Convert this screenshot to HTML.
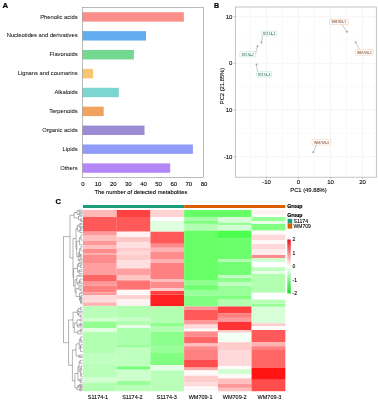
<!DOCTYPE html>
<html><head><meta charset="utf-8"><style>
html,body{margin:0;padding:0;background:#fff;}
body{width:378px;height:400px;overflow:hidden;}
svg{display:block;filter:blur(0.3px);}
text{font-family:"Liberation Sans",sans-serif;}
</style></head><body>
<svg width="378" height="400" viewBox="0 0 378 400">
<rect x="82.5" y="12.24" width="101.34" height="9.4" fill="#F98F88"/>
<text x="77.6" y="18.54" font-size="5.8" text-anchor="end" fill="#111" stroke="#111" stroke-width="0.05">Phenolic acids</text>
<rect x="82.5" y="31.13" width="63.52" height="9.4" fill="#62ADF0"/>
<text x="77.6" y="37.43" font-size="5.8" text-anchor="end" fill="#111" stroke="#111" stroke-width="0.05">Nucleotides and derivatives</text>
<rect x="82.5" y="50.02" width="51.42" height="9.4" fill="#74D990"/>
<text x="77.6" y="56.32" font-size="5.8" text-anchor="end" fill="#111" stroke="#111" stroke-width="0.05">Flavonoids</text>
<rect x="82.5" y="68.91" width="10.59" height="9.4" fill="#F8C673"/>
<text x="77.6" y="75.21" font-size="5.8" text-anchor="end" fill="#111" stroke="#111" stroke-width="0.05">Lignans and coumarins</text>
<rect x="82.5" y="87.80" width="36.30" height="9.4" fill="#7BD6D1"/>
<text x="77.6" y="94.10" font-size="5.8" text-anchor="end" fill="#111" stroke="#111" stroke-width="0.05">Alkaloids</text>
<rect x="82.5" y="106.69" width="21.18" height="9.4" fill="#EFA35F"/>
<text x="77.6" y="112.99" font-size="5.8" text-anchor="end" fill="#111" stroke="#111" stroke-width="0.05">Terpenoids</text>
<rect x="82.5" y="125.58" width="62.01" height="9.4" fill="#9A8BD3"/>
<text x="77.6" y="131.88" font-size="5.8" text-anchor="end" fill="#111" stroke="#111" stroke-width="0.05">Organic acids</text>
<rect x="82.5" y="144.47" width="110.41" height="9.4" fill="#919CF8"/>
<text x="77.6" y="150.77" font-size="5.8" text-anchor="end" fill="#111" stroke="#111" stroke-width="0.05">Lipids</text>
<rect x="82.5" y="163.36" width="87.72" height="9.4" fill="#B387F8"/>
<text x="77.6" y="169.66" font-size="5.8" text-anchor="end" fill="#111" stroke="#111" stroke-width="0.05">Others</text>
<rect x="82.5" y="7.5" width="121.0" height="170.0" fill="none" stroke="#8c8c8c" stroke-width="0.6"/>
<text x="83.00" y="185.9" font-size="6" text-anchor="middle" fill="#000" stroke="#000" stroke-width="0.1">0</text>
<text x="98.12" y="185.9" font-size="6" text-anchor="middle" fill="#000" stroke="#000" stroke-width="0.1">10</text>
<text x="113.25" y="185.9" font-size="6" text-anchor="middle" fill="#000" stroke="#000" stroke-width="0.1">20</text>
<text x="128.38" y="185.9" font-size="6" text-anchor="middle" fill="#000" stroke="#000" stroke-width="0.1">30</text>
<text x="143.50" y="185.9" font-size="6" text-anchor="middle" fill="#000" stroke="#000" stroke-width="0.1">40</text>
<text x="158.62" y="185.9" font-size="6" text-anchor="middle" fill="#000" stroke="#000" stroke-width="0.1">50</text>
<text x="173.75" y="185.9" font-size="6" text-anchor="middle" fill="#000" stroke="#000" stroke-width="0.1">60</text>
<text x="188.88" y="185.9" font-size="6" text-anchor="middle" fill="#000" stroke="#000" stroke-width="0.1">70</text>
<text x="204.00" y="185.9" font-size="6" text-anchor="middle" fill="#000" stroke="#000" stroke-width="0.1">80</text>
<text x="140.9" y="194.1" font-size="5.8" text-anchor="middle" fill="#000" stroke="#000" stroke-width="0.1">The number of detected metabolites</text>
<text x="2.5" y="8.4" font-size="7.8" font-weight="bold" fill="#000" stroke="#000" stroke-width="0.2">A</text>
<rect x="235.3" y="7.0" width="141.0" height="170.2" fill="#fff"/>
<line x1="250.50" y1="7.0" x2="250.50" y2="177.2" stroke="#f5f5f5" stroke-width="0.6"/>
<line x1="282.50" y1="7.0" x2="282.50" y2="177.2" stroke="#f5f5f5" stroke-width="0.6"/>
<line x1="314.50" y1="7.0" x2="314.50" y2="177.2" stroke="#f5f5f5" stroke-width="0.6"/>
<line x1="346.50" y1="7.0" x2="346.50" y2="177.2" stroke="#f5f5f5" stroke-width="0.6"/>
<line x1="235.3" y1="40.03" x2="376.3" y2="40.03" stroke="#f5f5f5" stroke-width="0.6"/>
<line x1="235.3" y1="86.67" x2="376.3" y2="86.67" stroke="#f5f5f5" stroke-width="0.6"/>
<line x1="235.3" y1="133.32" x2="376.3" y2="133.32" stroke="#f5f5f5" stroke-width="0.6"/>
<line x1="266.50" y1="7.0" x2="266.50" y2="177.2" stroke="#eeeeee" stroke-width="0.6"/>
<line x1="298.50" y1="7.0" x2="298.50" y2="177.2" stroke="#eeeeee" stroke-width="0.6"/>
<line x1="330.50" y1="7.0" x2="330.50" y2="177.2" stroke="#eeeeee" stroke-width="0.6"/>
<line x1="362.50" y1="7.0" x2="362.50" y2="177.2" stroke="#eeeeee" stroke-width="0.6"/>
<line x1="235.3" y1="16.70" x2="376.3" y2="16.70" stroke="#eeeeee" stroke-width="0.6"/>
<line x1="235.3" y1="63.35" x2="376.3" y2="63.35" stroke="#eeeeee" stroke-width="0.6"/>
<line x1="235.3" y1="110.00" x2="376.3" y2="110.00" stroke="#eeeeee" stroke-width="0.6"/>
<line x1="235.3" y1="156.65" x2="376.3" y2="156.65" stroke="#eeeeee" stroke-width="0.6"/>
<rect x="235.3" y="7.0" width="141.0" height="170.2" fill="none" stroke="#aaaaaa" stroke-width="0.7"/>
<line x1="233.70000000000002" y1="16.70" x2="235.3" y2="16.70" stroke="#999" stroke-width="0.6"/>
<text x="232.4" y="18.80" font-size="6" text-anchor="end" fill="#000" stroke="#000" stroke-width="0.1">10</text>
<line x1="233.70000000000002" y1="63.35" x2="235.3" y2="63.35" stroke="#999" stroke-width="0.6"/>
<text x="232.4" y="65.45" font-size="6" text-anchor="end" fill="#000" stroke="#000" stroke-width="0.1">0</text>
<line x1="233.70000000000002" y1="110.00" x2="235.3" y2="110.00" stroke="#999" stroke-width="0.6"/>
<text x="232.4" y="112.10" font-size="6" text-anchor="end" fill="#000" stroke="#000" stroke-width="0.1">10</text>
<line x1="233.70000000000002" y1="156.65" x2="235.3" y2="156.65" stroke="#999" stroke-width="0.6"/>
<text x="232.4" y="158.75" font-size="6" text-anchor="end" fill="#000" stroke="#000" stroke-width="0.1">-10</text>
<line x1="266.50" y1="177.2" x2="266.50" y2="178.79999999999998" stroke="#999" stroke-width="0.6"/>
<text x="266.50" y="184.1" font-size="6" text-anchor="middle" fill="#000" stroke="#000" stroke-width="0.1">-10</text>
<line x1="298.50" y1="177.2" x2="298.50" y2="178.79999999999998" stroke="#999" stroke-width="0.6"/>
<text x="298.50" y="184.1" font-size="6" text-anchor="middle" fill="#000" stroke="#000" stroke-width="0.1">0</text>
<line x1="330.50" y1="177.2" x2="330.50" y2="178.79999999999998" stroke="#999" stroke-width="0.6"/>
<text x="330.50" y="184.1" font-size="6" text-anchor="middle" fill="#000" stroke="#000" stroke-width="0.1">10</text>
<line x1="362.50" y1="177.2" x2="362.50" y2="178.79999999999998" stroke="#999" stroke-width="0.6"/>
<text x="362.50" y="184.1" font-size="6" text-anchor="middle" fill="#000" stroke="#000" stroke-width="0.1">20</text>
<text x="308.5" y="192.2" font-size="5.8" text-anchor="middle" fill="#000" stroke="#000" stroke-width="0.1">PC1 (49.88%)</text>
<text transform="translate(224.1,86) rotate(-90)" x="0" y="0" font-size="5.8" text-anchor="middle" fill="#000" stroke="#000" stroke-width="0.1">PC2 (21.85%)</text>
<text x="213.9" y="8.3" font-size="8.0" textLength="5.1" lengthAdjust="spacingAndGlyphs" font-weight="bold" fill="#000" stroke="#000" stroke-width="0.2">B</text>
<line x1="262.5" y1="35.8" x2="261.5" y2="42.6" stroke="#777" stroke-width="0.4"/>
<circle cx="261.5" cy="42.6" r="1.0" fill="#888" opacity="0.7"/>
<rect x="261.3" y="31.3" width="15.50" height="4.50" rx="0.6" fill="#fff" stroke="#1B9E77" stroke-opacity="0.45" stroke-width="0.4"/>
<text x="269.05" y="34.85" font-size="3.4" text-anchor="middle" fill="#4f8a7c" stroke="#4f8a7c" stroke-width="0.1">S1174-1</text>
<line x1="255.6" y1="53" x2="257.5" y2="46.3" stroke="#777" stroke-width="0.4"/>
<circle cx="257.5" cy="46.3" r="1.0" fill="#888" opacity="0.7"/>
<rect x="239.8" y="51.6" width="15.80" height="5.30" rx="0.6" fill="#fff" stroke="#1B9E77" stroke-opacity="0.45" stroke-width="0.4"/>
<text x="247.70" y="55.55" font-size="3.4" text-anchor="middle" fill="#4f8a7c" stroke="#4f8a7c" stroke-width="0.1">S1174-2</text>
<line x1="257.5" y1="71.7" x2="256.5" y2="64.6" stroke="#777" stroke-width="0.4"/>
<circle cx="256.5" cy="64.6" r="1.0" fill="#888" opacity="0.7"/>
<rect x="256.7" y="71.7" width="14.80" height="5.50" rx="0.6" fill="#fff" stroke="#1B9E77" stroke-opacity="0.45" stroke-width="0.4"/>
<text x="264.10" y="75.75" font-size="3.4" text-anchor="middle" fill="#4f8a7c" stroke="#4f8a7c" stroke-width="0.1">S1174-3</text>
<line x1="342" y1="24.5" x2="347.1" y2="31.8" stroke="#777" stroke-width="0.4"/>
<circle cx="347.1" cy="31.8" r="1.0" fill="#888" opacity="0.7"/>
<rect x="329.5" y="19.3" width="18.50" height="5.20" rx="0.6" fill="#fff" stroke="#D95F02" stroke-opacity="0.45" stroke-width="0.4"/>
<text x="338.75" y="23.20" font-size="3.4" text-anchor="middle" fill="#9a6e52" stroke="#9a6e52" stroke-width="0.1">WM709-1</text>
<line x1="359.5" y1="49.6" x2="355.5" y2="42.2" stroke="#777" stroke-width="0.4"/>
<circle cx="355.5" cy="42.2" r="1.0" fill="#888" opacity="0.7"/>
<rect x="355.3" y="49.6" width="17.90" height="5.60" rx="0.6" fill="#fff" stroke="#D95F02" stroke-opacity="0.45" stroke-width="0.4"/>
<text x="364.25" y="53.70" font-size="3.4" text-anchor="middle" fill="#9a6e52" stroke="#9a6e52" stroke-width="0.1">WM709-2</text>
<line x1="316.5" y1="145.1" x2="313.2" y2="152.2" stroke="#777" stroke-width="0.4"/>
<circle cx="313.2" cy="152.2" r="1.0" fill="#888" opacity="0.7"/>
<rect x="312.2" y="139.3" width="18.50" height="5.80" rx="0.6" fill="#fff" stroke="#D95F02" stroke-opacity="0.45" stroke-width="0.4"/>
<text x="321.45" y="143.50" font-size="3.4" text-anchor="middle" fill="#9a6e52" stroke="#9a6e52" stroke-width="0.1">WM709-3</text>
<text x="55.6" y="204.4" font-size="7.6" font-weight="bold" fill="#000" stroke="#000" stroke-width="0.2">C</text>
<rect x="83.0" y="205" width="101.15" height="3" fill="#1B9E77"/>
<rect x="184.15" y="205" width="101.15" height="3" fill="#D95F02"/>
<text x="287.2" y="207.9" font-size="5.1" font-weight="bold" fill="#000" stroke="#000" stroke-width="0.2">Group</text>
<text x="287.2" y="216.9" font-size="5.1" font-weight="bold" fill="#000" stroke="#000" stroke-width="0.2">Group</text>
<rect x="287.6" y="218.8" width="4.6" height="4.7" fill="#1B9E77"/>
<rect x="287.6" y="223.5" width="4.6" height="5.1" fill="#D95F02"/>
<text x="293.5" y="223.1" font-size="5.2" fill="#000" stroke="#000" stroke-width="0.1">S1174</text>
<text x="293.5" y="228.4" font-size="5.0" fill="#000" stroke="#000" stroke-width="0.1">WM709</text>
<rect x="83.00" y="210.00" width="33.77" height="7.00" fill="rgb(255,185,185)"/>
<rect x="83.00" y="217.00" width="33.77" height="14.70" fill="rgb(255,89,89)"/>
<rect x="83.00" y="231.70" width="33.77" height="4.00" fill="rgb(255,153,153)"/>
<rect x="83.00" y="235.70" width="33.77" height="5.30" fill="rgb(255,191,191)"/>
<rect x="83.00" y="241.00" width="33.77" height="4.00" fill="rgb(255,153,153)"/>
<rect x="83.00" y="245.00" width="33.77" height="4.00" fill="rgb(255,191,191)"/>
<rect x="83.00" y="249.00" width="33.77" height="4.00" fill="rgb(255,140,140)"/>
<rect x="83.00" y="253.00" width="33.77" height="2.00" fill="rgb(255,178,178)"/>
<rect x="83.00" y="255.00" width="33.77" height="8.00" fill="rgb(255,140,140)"/>
<rect x="83.00" y="263.00" width="33.77" height="12.00" fill="rgb(255,159,159)"/>
<rect x="83.00" y="275.00" width="33.77" height="6.70" fill="rgb(255,102,102)"/>
<rect x="83.00" y="281.70" width="33.77" height="4.10" fill="rgb(255,153,153)"/>
<rect x="83.00" y="285.80" width="33.77" height="6.60" fill="rgb(255,128,128)"/>
<rect x="83.00" y="292.40" width="33.77" height="2.70" fill="rgb(255,153,153)"/>
<rect x="83.00" y="295.10" width="33.77" height="5.40" fill="rgb(255,217,217)"/>
<rect x="83.00" y="300.50" width="33.77" height="2.00" fill="rgb(255,217,217)"/>
<rect x="83.00" y="302.50" width="33.77" height="3.40" fill="rgb(255,178,178)"/>
<rect x="83.00" y="305.90" width="33.77" height="12.80" fill="rgb(185,255,185)"/>
<rect x="83.00" y="318.70" width="33.77" height="2.70" fill="rgb(210,255,210)"/>
<rect x="83.00" y="321.40" width="33.77" height="6.60" fill="rgb(147,255,147)"/>
<rect x="83.00" y="328.00" width="33.77" height="4.00" fill="rgb(223,255,223)"/>
<rect x="83.00" y="332.00" width="33.77" height="21.00" fill="rgb(178,255,178)"/>
<rect x="83.00" y="353.00" width="33.77" height="10.70" fill="rgb(191,255,191)"/>
<rect x="83.00" y="363.70" width="33.77" height="13.30" fill="rgb(185,255,185)"/>
<rect x="83.00" y="377.00" width="33.77" height="5.40" fill="rgb(210,255,210)"/>
<rect x="83.00" y="382.40" width="33.77" height="8.80" fill="rgb(178,255,178)"/>
<rect x="116.72" y="210.00" width="33.77" height="7.00" fill="rgb(255,64,64)"/>
<rect x="116.72" y="217.00" width="33.77" height="14.70" fill="rgb(255,89,89)"/>
<rect x="116.72" y="231.70" width="33.77" height="5.30" fill="rgb(255,242,242)"/>
<rect x="116.72" y="237.00" width="33.77" height="5.40" fill="rgb(255,198,198)"/>
<rect x="116.72" y="242.40" width="33.77" height="5.40" fill="rgb(255,223,223)"/>
<rect x="116.72" y="247.80" width="33.77" height="4.00" fill="rgb(255,204,204)"/>
<rect x="116.72" y="251.80" width="33.77" height="3.20" fill="rgb(255,217,217)"/>
<rect x="116.72" y="255.00" width="33.77" height="5.30" fill="rgb(255,204,204)"/>
<rect x="116.72" y="260.30" width="33.77" height="8.10" fill="rgb(255,223,223)"/>
<rect x="116.72" y="268.40" width="33.77" height="6.60" fill="rgb(255,159,159)"/>
<rect x="116.72" y="275.00" width="33.77" height="5.40" fill="rgb(255,198,198)"/>
<rect x="116.72" y="280.40" width="33.77" height="9.40" fill="rgb(255,115,115)"/>
<rect x="116.72" y="289.80" width="33.77" height="5.30" fill="rgb(255,249,249)"/>
<rect x="116.72" y="295.10" width="33.77" height="4.00" fill="rgb(255,210,210)"/>
<rect x="116.72" y="299.10" width="33.77" height="6.80" fill="rgb(255,242,242)"/>
<rect x="116.72" y="305.90" width="33.77" height="11.10" fill="rgb(178,255,178)"/>
<rect x="116.72" y="317.00" width="33.77" height="4.00" fill="rgb(198,255,198)"/>
<rect x="116.72" y="321.00" width="33.77" height="4.40" fill="rgb(178,255,178)"/>
<rect x="116.72" y="325.40" width="33.77" height="2.60" fill="rgb(230,255,230)"/>
<rect x="116.72" y="328.00" width="33.77" height="17.00" fill="rgb(172,255,172)"/>
<rect x="116.72" y="345.00" width="33.77" height="2.70" fill="rgb(153,255,153)"/>
<rect x="116.72" y="347.70" width="33.77" height="18.70" fill="rgb(191,255,191)"/>
<rect x="116.72" y="366.40" width="33.77" height="3.20" fill="rgb(115,255,115)"/>
<rect x="116.72" y="369.60" width="33.77" height="11.40" fill="rgb(204,255,204)"/>
<rect x="116.72" y="381.00" width="33.77" height="4.00" fill="rgb(153,255,153)"/>
<rect x="116.72" y="385.00" width="33.77" height="6.20" fill="rgb(185,255,185)"/>
<rect x="150.43" y="210.00" width="33.77" height="7.00" fill="rgb(255,210,210)"/>
<rect x="150.43" y="217.00" width="33.77" height="4.00" fill="rgb(255,255,255)"/>
<rect x="150.43" y="221.00" width="33.77" height="10.70" fill="rgb(223,255,223)"/>
<rect x="150.43" y="231.70" width="33.77" height="12.10" fill="rgb(255,89,89)"/>
<rect x="150.43" y="243.80" width="33.77" height="4.00" fill="rgb(255,140,140)"/>
<rect x="150.43" y="247.80" width="33.77" height="4.00" fill="rgb(255,178,178)"/>
<rect x="150.43" y="251.80" width="33.77" height="3.20" fill="rgb(255,140,140)"/>
<rect x="150.43" y="255.00" width="33.77" height="4.00" fill="rgb(255,140,140)"/>
<rect x="150.43" y="259.00" width="33.77" height="4.00" fill="rgb(255,178,178)"/>
<rect x="150.43" y="263.00" width="33.77" height="16.00" fill="rgb(255,128,128)"/>
<rect x="150.43" y="279.00" width="33.77" height="2.70" fill="rgb(255,191,191)"/>
<rect x="150.43" y="281.70" width="33.77" height="6.70" fill="rgb(255,140,140)"/>
<rect x="150.43" y="288.40" width="33.77" height="2.60" fill="rgb(255,204,204)"/>
<rect x="150.43" y="291.00" width="33.77" height="3.50" fill="rgb(255,64,64)"/>
<rect x="150.43" y="294.50" width="33.77" height="11.80" fill="rgb(255,32,32)"/>
<rect x="150.43" y="306.30" width="33.77" height="16.40" fill="rgb(178,255,178)"/>
<rect x="150.43" y="322.70" width="33.77" height="4.00" fill="rgb(140,255,140)"/>
<rect x="150.43" y="326.70" width="33.77" height="5.30" fill="rgb(178,255,178)"/>
<rect x="150.43" y="332.00" width="33.77" height="13.00" fill="rgb(140,255,140)"/>
<rect x="150.43" y="345.00" width="33.77" height="8.00" fill="rgb(153,255,153)"/>
<rect x="150.43" y="353.00" width="33.77" height="12.00" fill="rgb(128,255,128)"/>
<rect x="150.43" y="365.00" width="33.77" height="5.40" fill="rgb(230,255,230)"/>
<rect x="150.43" y="370.40" width="33.77" height="20.80" fill="rgb(185,255,185)"/>
<rect x="184.15" y="210.00" width="33.77" height="7.00" fill="rgb(102,255,102)"/>
<rect x="184.15" y="217.00" width="33.77" height="4.00" fill="rgb(166,255,166)"/>
<rect x="184.15" y="221.00" width="33.77" height="2.90" fill="rgb(128,255,128)"/>
<rect x="184.15" y="223.90" width="33.77" height="6.70" fill="rgb(178,255,178)"/>
<rect x="184.15" y="230.60" width="33.77" height="50.10" fill="rgb(102,255,102)"/>
<rect x="184.15" y="280.70" width="33.77" height="4.00" fill="rgb(140,255,140)"/>
<rect x="184.15" y="284.70" width="33.77" height="5.30" fill="rgb(115,255,115)"/>
<rect x="184.15" y="290.00" width="33.77" height="5.50" fill="rgb(153,255,153)"/>
<rect x="184.15" y="295.50" width="33.77" height="11.00" fill="rgb(128,255,128)"/>
<rect x="184.15" y="306.50" width="33.77" height="3.30" fill="rgb(255,153,153)"/>
<rect x="184.15" y="309.80" width="33.77" height="10.80" fill="rgb(255,89,89)"/>
<rect x="184.15" y="320.60" width="33.77" height="4.00" fill="rgb(255,153,153)"/>
<rect x="184.15" y="324.60" width="33.77" height="4.10" fill="rgb(255,217,217)"/>
<rect x="184.15" y="328.70" width="33.77" height="2.70" fill="rgb(255,249,249)"/>
<rect x="184.15" y="331.40" width="33.77" height="5.40" fill="rgb(255,140,140)"/>
<rect x="184.15" y="336.80" width="33.77" height="6.70" fill="rgb(255,102,102)"/>
<rect x="184.15" y="343.50" width="33.77" height="2.70" fill="rgb(255,191,191)"/>
<rect x="184.15" y="346.20" width="33.77" height="3.80" fill="rgb(255,140,140)"/>
<rect x="184.15" y="350.00" width="33.77" height="9.50" fill="rgb(255,128,128)"/>
<rect x="184.15" y="359.50" width="33.77" height="8.10" fill="rgb(255,77,77)"/>
<rect x="184.15" y="367.60" width="33.77" height="2.70" fill="rgb(255,166,166)"/>
<rect x="184.15" y="370.30" width="33.77" height="5.40" fill="rgb(255,249,249)"/>
<rect x="184.15" y="375.70" width="33.77" height="6.80" fill="rgb(255,204,204)"/>
<rect x="184.15" y="382.50" width="33.77" height="4.00" fill="rgb(255,217,217)"/>
<rect x="184.15" y="386.50" width="33.77" height="4.70" fill="rgb(255,249,249)"/>
<rect x="217.87" y="210.00" width="33.77" height="7.00" fill="rgb(102,255,102)"/>
<rect x="217.87" y="217.00" width="33.77" height="5.50" fill="rgb(217,255,217)"/>
<rect x="217.87" y="222.50" width="33.77" height="2.70" fill="rgb(153,255,153)"/>
<rect x="217.87" y="225.20" width="33.77" height="5.40" fill="rgb(210,255,210)"/>
<rect x="217.87" y="230.60" width="33.77" height="8.10" fill="rgb(77,255,77)"/>
<rect x="217.87" y="238.70" width="33.77" height="20.30" fill="rgb(108,255,108)"/>
<rect x="217.87" y="259.00" width="33.77" height="2.80" fill="rgb(178,255,178)"/>
<rect x="217.87" y="261.80" width="33.77" height="13.50" fill="rgb(115,255,115)"/>
<rect x="217.87" y="275.30" width="33.77" height="2.70" fill="rgb(191,255,191)"/>
<rect x="217.87" y="278.00" width="33.77" height="4.00" fill="rgb(140,255,140)"/>
<rect x="217.87" y="282.00" width="33.77" height="4.00" fill="rgb(191,255,191)"/>
<rect x="217.87" y="286.00" width="33.77" height="10.00" fill="rgb(153,255,153)"/>
<rect x="217.87" y="296.00" width="33.77" height="3.00" fill="rgb(128,255,128)"/>
<rect x="217.87" y="299.00" width="33.77" height="7.50" fill="rgb(178,255,178)"/>
<rect x="217.87" y="306.50" width="33.77" height="7.00" fill="rgb(255,64,64)"/>
<rect x="217.87" y="313.50" width="33.77" height="4.40" fill="rgb(255,128,128)"/>
<rect x="217.87" y="317.90" width="33.77" height="4.00" fill="rgb(255,153,153)"/>
<rect x="217.87" y="321.90" width="33.77" height="8.10" fill="rgb(255,51,51)"/>
<rect x="217.87" y="330.00" width="33.77" height="2.70" fill="rgb(255,204,204)"/>
<rect x="217.87" y="332.70" width="33.77" height="9.50" fill="rgb(242,255,242)"/>
<rect x="217.87" y="342.20" width="33.77" height="7.80" fill="rgb(255,204,204)"/>
<rect x="217.87" y="350.00" width="33.77" height="16.30" fill="rgb(255,217,217)"/>
<rect x="217.87" y="366.30" width="33.77" height="2.70" fill="rgb(255,252,252)"/>
<rect x="217.87" y="369.00" width="33.77" height="5.40" fill="rgb(210,255,210)"/>
<rect x="217.87" y="374.40" width="33.77" height="4.00" fill="rgb(255,249,249)"/>
<rect x="217.87" y="378.40" width="33.77" height="5.40" fill="rgb(255,191,191)"/>
<rect x="217.87" y="383.80" width="33.77" height="4.10" fill="rgb(255,153,153)"/>
<rect x="217.87" y="387.90" width="33.77" height="3.30" fill="rgb(255,191,191)"/>
<rect x="251.58" y="210.00" width="33.77" height="4.40" fill="rgb(255,242,242)"/>
<rect x="251.58" y="214.40" width="33.77" height="2.60" fill="rgb(255,252,252)"/>
<rect x="251.58" y="217.00" width="33.77" height="4.00" fill="rgb(153,255,153)"/>
<rect x="251.58" y="221.00" width="33.77" height="3.00" fill="rgb(230,255,230)"/>
<rect x="251.58" y="224.00" width="33.77" height="6.60" fill="rgb(128,255,128)"/>
<rect x="251.58" y="230.60" width="33.77" height="4.10" fill="rgb(255,249,249)"/>
<rect x="251.58" y="234.70" width="33.77" height="5.30" fill="rgb(255,217,217)"/>
<rect x="251.58" y="240.00" width="33.77" height="4.00" fill="rgb(255,249,249)"/>
<rect x="251.58" y="244.00" width="33.77" height="5.50" fill="rgb(255,217,217)"/>
<rect x="251.58" y="249.50" width="33.77" height="5.50" fill="rgb(255,236,236)"/>
<rect x="251.58" y="255.00" width="33.77" height="3.20" fill="rgb(255,140,140)"/>
<rect x="251.58" y="258.20" width="33.77" height="3.60" fill="rgb(204,255,204)"/>
<rect x="251.58" y="261.80" width="33.77" height="5.40" fill="rgb(255,255,255)"/>
<rect x="251.58" y="267.20" width="33.77" height="3.80" fill="rgb(191,255,191)"/>
<rect x="251.58" y="271.00" width="33.77" height="2.90" fill="rgb(230,255,230)"/>
<rect x="251.58" y="273.90" width="33.77" height="18.90" fill="rgb(178,255,178)"/>
<rect x="251.58" y="292.80" width="33.77" height="6.80" fill="rgb(255,255,255)"/>
<rect x="251.58" y="299.60" width="33.77" height="4.20" fill="rgb(185,255,185)"/>
<rect x="251.58" y="303.80" width="33.77" height="3.00" fill="rgb(153,255,153)"/>
<rect x="251.58" y="306.80" width="33.77" height="16.50" fill="rgb(217,255,217)"/>
<rect x="251.58" y="323.30" width="33.77" height="2.70" fill="rgb(255,204,204)"/>
<rect x="251.58" y="326.00" width="33.77" height="4.00" fill="rgb(255,252,252)"/>
<rect x="251.58" y="330.00" width="33.77" height="12.20" fill="rgb(255,89,89)"/>
<rect x="251.58" y="342.20" width="33.77" height="4.00" fill="rgb(255,178,178)"/>
<rect x="251.58" y="346.20" width="33.77" height="3.80" fill="rgb(255,128,128)"/>
<rect x="251.58" y="350.00" width="33.77" height="17.60" fill="rgb(255,102,102)"/>
<rect x="251.58" y="367.60" width="33.77" height="12.20" fill="rgb(255,19,19)"/>
<rect x="251.58" y="379.80" width="33.77" height="11.40" fill="rgb(255,77,77)"/>
<defs><linearGradient id="cb" x1="0" y1="0" x2="0" y2="1"><stop offset="0" stop-color="#e8141e"/><stop offset="0.5" stop-color="#fff"/><stop offset="1" stop-color="#18d828"/></linearGradient></defs>
<rect x="287.3" y="239.5" width="3.5" height="54" fill="url(#cb)"/>
<text x="292.5" y="241.30" font-size="5" fill="#000" stroke="#000" stroke-width="0.1">2</text>
<text x="292.5" y="254.80" font-size="5" fill="#000" stroke="#000" stroke-width="0.1">1</text>
<text x="292.5" y="268.30" font-size="5" fill="#000" stroke="#000" stroke-width="0.1">0</text>
<text x="292.5" y="281.80" font-size="5" fill="#000" stroke="#000" stroke-width="0.1">-1</text>
<text x="292.5" y="295.30" font-size="5" fill="#000" stroke="#000" stroke-width="0.1">-2</text>
<text x="98.00" y="398.8" font-size="5.5" text-anchor="middle" fill="#000" stroke="#000" stroke-width="0.1">S1174-1</text>
<text x="132.40" y="398.8" font-size="5.5" text-anchor="middle" fill="#000" stroke="#000" stroke-width="0.1">S1174-2</text>
<text x="166.70" y="398.8" font-size="5.5" text-anchor="middle" fill="#000" stroke="#000" stroke-width="0.1">S1174-3</text>
<text x="200.60" y="398.8" font-size="5.5" text-anchor="middle" fill="#000" stroke="#000" stroke-width="0.1">WM709-1</text>
<text x="234.70" y="398.8" font-size="5.5" text-anchor="middle" fill="#000" stroke="#000" stroke-width="0.1">WM709-2</text>
<text x="269.50" y="398.8" font-size="5.5" text-anchor="middle" fill="#000" stroke="#000" stroke-width="0.1">WM709-3</text>
<path d="M80.12 210.00L82.60 210.00 M80.32 211.43L82.60 211.43 M78.90 210.00L80.12 210.00 M78.90 211.43L80.32 211.43 M78.90 210.00L78.90 211.43 M80.99 212.70L82.60 212.70 M80.83 213.81L82.60 213.81 M79.60 212.70L80.99 212.70 M79.60 213.81L80.83 213.81 M79.60 212.70L79.60 213.81 M79.93 215.15L82.60 215.15 M79.10 213.26L79.60 213.26 M79.10 215.15L79.93 215.15 M79.10 213.26L79.10 215.15 M77.09 210.72L78.90 210.72 M77.09 214.21L79.10 214.21 M77.09 210.72L77.09 214.21 M80.72 216.24L82.60 216.24 M81.41 218.57L82.60 218.57 M81.60 220.46L82.60 220.46 M81.48 221.57L82.60 221.57 M81.08 220.46L81.60 220.46 M81.08 221.57L81.48 221.57 M81.08 220.46L81.08 221.57 M80.68 218.57L81.41 218.57 M80.68 221.02L81.08 221.02 M80.68 218.57L80.68 221.02 M78.49 216.24L80.72 216.24 M78.49 219.79L80.68 219.79 M78.49 216.24L78.49 219.79 M74.10 212.46L77.09 212.46 M74.10 218.01L78.49 218.01 M74.10 212.46L74.10 218.01 M81.04 223.34L82.60 223.34 M80.86 224.70L82.60 224.70 M80.36 223.34L81.04 223.34 M80.36 224.70L80.86 224.70 M80.36 223.34L80.36 224.70 M81.48 226.32L82.60 226.32 M81.31 227.61L82.60 227.61 M80.13 226.32L81.48 226.32 M80.13 227.61L81.31 227.61 M80.13 226.32L80.13 227.61 M78.94 224.02L80.36 224.02 M78.94 226.97L80.13 226.97 M78.94 224.02L78.94 226.97 M80.94 228.48L82.60 228.48 M81.46 230.37L82.60 230.37 M80.54 228.48L80.94 228.48 M80.54 230.37L81.46 230.37 M80.54 228.48L80.54 230.37 M80.43 232.64L82.60 232.64 M79.88 229.43L80.54 229.43 M79.88 232.64L80.43 232.64 M79.88 229.43L79.88 232.64 M77.38 225.49L78.94 225.49 M77.38 231.03L79.88 231.03 M77.38 225.49L77.38 231.03 M81.83 235.17L82.60 235.17 M81.52 240.17L82.60 240.17 M81.02 235.17L81.83 235.17 M81.02 240.17L81.52 240.17 M81.02 235.17L81.02 240.17 M79.96 244.78L82.60 244.78 M79.56 237.67L81.02 237.67 M79.56 244.78L79.96 244.78 M79.56 237.67L79.56 244.78 M81.34 246.71L82.60 246.71 M81.82 250.69L82.60 250.69 M80.92 246.71L81.34 246.71 M80.92 250.69L81.82 250.69 M80.92 246.71L80.92 250.69 M81.01 254.25L82.60 254.25 M81.53 256.13L82.60 256.13 M80.61 254.25L81.01 254.25 M80.61 256.13L81.53 256.13 M80.61 254.25L80.61 256.13 M80.72 258.48L82.60 258.48 M80.21 255.19L80.61 255.19 M80.21 258.48L80.72 258.48 M80.21 255.19L80.21 258.48 M79.54 248.70L80.92 248.70 M79.54 256.83L80.21 256.83 M79.54 248.70L79.54 256.83 M80.21 259.72L82.60 259.72 M80.03 261.04L82.60 261.04 M78.92 259.72L80.21 259.72 M78.92 261.04L80.03 261.04 M78.92 259.72L78.92 261.04 M78.35 252.77L79.54 252.77 M78.35 260.38L78.92 260.38 M78.35 252.77L78.35 260.38 M76.75 241.22L79.56 241.22 M76.75 256.57L78.35 256.57 M76.75 241.22L76.75 256.57 M76.00 228.26L77.38 228.26 M76.00 248.90L76.75 248.90 M76.00 228.26L76.00 248.90 M80.01 262.79L82.60 262.79 M80.90 263.90L82.60 263.90 M79.21 262.79L80.01 262.79 M79.21 263.90L80.90 263.90 M79.21 262.79L79.21 263.90 M81.14 264.99L82.60 264.99 M81.56 267.58L82.60 267.58 M80.58 264.99L81.14 264.99 M80.58 267.58L81.56 267.58 M80.58 264.99L80.58 267.58 M78.25 263.34L79.21 263.34 M78.25 266.28L80.58 266.28 M78.25 263.34L78.25 266.28 M80.15 269.85L82.60 269.85 M80.88 271.32L82.60 271.32 M79.48 269.85L80.15 269.85 M79.48 271.32L80.88 271.32 M79.48 269.85L79.48 271.32 M80.94 273.34L82.60 273.34 M78.95 270.59L79.48 270.59 M78.95 273.34L80.94 273.34 M78.95 270.59L78.95 273.34 M77.46 264.81L78.25 264.81 M77.46 271.97L78.95 271.97 M77.46 264.81L77.46 271.97 M79.89 275.05L82.60 275.05 M80.02 276.32L82.60 276.32 M78.90 275.05L79.89 275.05 M78.90 276.32L80.02 276.32 M78.90 275.05L78.90 276.32 M81.24 279.13L82.60 279.13 M80.58 282.03L82.60 282.03 M80.04 279.13L81.24 279.13 M80.04 282.03L80.58 282.03 M80.04 279.13L80.04 282.03 M80.00 283.59L82.60 283.59 M79.47 280.58L80.04 280.58 M79.47 283.59L80.00 283.59 M79.47 280.58L79.47 283.59 M79.66 285.35L82.60 285.35 M78.01 282.08L79.47 282.08 M78.01 285.35L79.66 285.35 M78.01 282.08L78.01 285.35 M76.80 275.68L78.90 275.68 M76.80 283.72L78.01 283.72 M76.80 275.68L76.80 283.72 M80.84 286.97L82.60 286.97 M81.27 288.87L82.60 288.87 M81.13 290.82L82.60 290.82 M80.73 288.87L81.27 288.87 M80.73 290.82L81.13 290.82 M80.73 288.87L80.73 290.82 M78.88 286.97L80.84 286.97 M78.88 289.84L80.73 289.84 M78.88 286.97L78.88 289.84 M81.54 292.44L82.60 292.44 M81.83 293.66L82.60 293.66 M81.14 292.44L81.54 292.44 M81.14 293.66L81.83 293.66 M81.14 292.44L81.14 293.66 M81.82 295.25L82.60 295.25 M81.66 297.36L82.60 297.36 M81.10 295.25L81.82 295.25 M81.10 297.36L81.66 297.36 M81.10 295.25L81.10 297.36 M81.87 298.72L82.60 298.72 M81.50 299.84L82.60 299.84 M81.10 298.72L81.87 298.72 M81.10 299.84L81.50 299.84 M81.10 298.72L81.10 299.84 M80.70 296.30L81.10 296.30 M80.70 299.28L81.10 299.28 M80.70 296.30L80.70 299.28 M81.01 300.97L82.60 300.97 M81.58 301.76L82.60 301.76 M81.58 303.83L82.60 303.83 M81.18 301.76L81.58 301.76 M81.18 303.83L81.58 303.83 M81.18 301.76L81.18 303.83 M80.56 300.97L81.01 300.97 M80.56 302.80L81.18 302.80 M80.56 300.97L80.56 302.80 M80.12 297.79L80.70 297.79 M80.12 301.88L80.56 301.88 M80.12 297.79L80.12 301.88 M79.47 293.05L81.14 293.05 M79.47 299.84L80.12 299.84 M79.47 293.05L79.47 299.84 M76.04 288.41L78.88 288.41 M76.04 296.44L79.47 296.44 M76.04 288.41L76.04 296.44 M75.03 279.70L76.80 279.70 M75.03 292.42L76.04 292.42 M75.03 279.70L75.03 292.42 M73.60 268.39L77.46 268.39 M73.60 286.06L75.03 286.06 M73.60 268.39L73.60 286.06 M73.00 238.58L76.00 238.58 M73.00 277.23L73.60 277.23 M73.00 238.58L73.00 277.23 M70.00 215.24L74.10 215.24 M70.00 257.90L73.00 257.90 M70.00 215.24L70.00 257.90 M81.32 307.19L82.60 307.19 M80.99 309.85L82.60 309.85 M80.59 307.19L81.32 307.19 M80.59 309.85L80.99 309.85 M80.59 307.19L80.59 309.85 M79.96 311.60L82.60 311.60 M78.23 308.52L80.59 308.52 M78.23 311.60L79.96 311.60 M78.23 308.52L78.23 311.60 M79.18 312.87L82.60 312.87 M81.72 314.85L82.60 314.85 M81.12 317.17L82.60 317.17 M80.72 314.85L81.72 314.85 M80.72 317.17L81.12 317.17 M80.72 314.85L80.72 317.17 M78.77 312.87L79.18 312.87 M78.77 316.01L80.72 316.01 M78.77 312.87L78.77 316.01 M77.40 310.06L78.23 310.06 M77.40 314.44L78.77 314.44 M77.40 310.06L77.40 314.44 M81.15 319.01L82.60 319.01 M81.34 320.89L82.60 320.89 M80.05 319.01L81.15 319.01 M80.05 320.89L81.34 320.89 M80.05 319.01L80.05 320.89 M81.52 323.08L82.60 323.08 M81.09 324.75L82.60 324.75 M80.48 323.08L81.52 323.08 M80.48 324.75L81.09 324.75 M80.48 323.08L80.48 324.75 M80.91 325.56L82.60 325.56 M79.74 323.92L80.48 323.92 M79.74 325.56L80.91 325.56 M79.74 323.92L79.74 325.56 M79.93 327.06L82.60 327.06 M77.69 324.74L79.74 324.74 M77.69 327.06L79.93 327.06 M77.69 324.74L77.69 327.06 M76.93 319.95L80.05 319.95 M76.93 325.90L77.69 325.90 M76.93 319.95L76.93 325.90 M81.23 328.94L82.60 328.94 M81.52 330.36L82.60 330.36 M80.83 328.94L81.23 328.94 M80.83 330.36L81.52 330.36 M80.83 328.94L80.83 330.36 M81.05 331.96L82.60 331.96 M80.17 329.65L80.83 329.65 M80.17 331.96L81.05 331.96 M80.17 329.65L80.17 331.96 M79.55 333.98L82.60 333.98 M77.86 330.81L80.17 330.81 M77.86 333.98L79.55 333.98 M77.86 330.81L77.86 333.98 M74.30 322.92L76.93 322.92 M74.30 332.39L77.86 332.39 M74.30 322.92L74.30 332.39 M73.00 312.25L77.40 312.25 M73.00 327.66L74.30 327.66 M73.00 312.25L73.00 327.66 M81.61 336.88L82.60 336.88 M81.51 340.26L82.60 340.26 M81.66 342.48L82.60 342.48 M81.11 340.26L81.51 340.26 M81.11 342.48L81.66 342.48 M81.11 340.26L81.11 342.48 M80.71 336.88L81.61 336.88 M80.71 341.37L81.11 341.37 M80.71 336.88L80.71 341.37 M81.55 344.57L82.60 344.57 M81.78 347.30L82.60 347.30 M80.91 344.57L81.55 344.57 M80.91 347.30L81.78 347.30 M80.91 344.57L80.91 347.30 M81.36 351.56L82.60 351.56 M80.48 345.93L80.91 345.93 M80.48 351.56L81.36 351.56 M80.48 345.93L80.48 351.56 M79.27 339.13L80.71 339.13 M79.27 348.75L80.48 348.75 M79.27 339.13L79.27 348.75 M79.22 355.03L82.60 355.03 M80.26 356.36L82.60 356.36 M80.22 357.55L82.60 357.55 M79.71 356.36L80.26 356.36 M79.71 357.55L80.22 357.55 M79.71 356.36L79.71 357.55 M78.82 355.03L79.22 355.03 M78.82 356.96L79.71 356.96 M78.82 355.03L78.82 356.96 M76.00 343.94L79.27 343.94 M76.00 355.99L78.82 355.99 M76.00 343.94L76.00 355.99 M81.36 360.30L82.60 360.30 M80.81 363.21L82.60 363.21 M80.13 360.30L81.36 360.30 M80.13 363.21L80.81 363.21 M80.13 360.30L80.13 363.21 M81.86 365.81L82.60 365.81 M81.86 369.81L82.60 369.81 M81.18 365.81L81.86 365.81 M81.18 369.81L81.86 369.81 M81.18 365.81L81.18 369.81 M81.90 373.87L82.60 373.87 M81.52 377.04L82.60 377.04 M81.12 373.87L81.90 373.87 M81.12 377.04L81.52 377.04 M81.12 373.87L81.12 377.04 M80.72 367.81L81.18 367.81 M80.72 375.45L81.12 375.45 M80.72 367.81L80.72 375.45 M79.10 361.76L80.13 361.76 M79.10 371.63L80.72 371.63 M79.10 361.76L79.10 371.63 M80.66 378.94L82.60 378.94 M81.06 380.37L82.60 380.37 M81.26 382.52L82.60 382.52 M80.44 380.37L81.06 380.37 M80.44 382.52L81.26 382.52 M80.44 380.37L80.44 382.52 M79.81 378.94L80.66 378.94 M79.81 381.45L80.44 381.45 M79.81 378.94L79.81 381.45 M77.96 366.69L79.10 366.69 M77.96 380.19L79.81 380.19 M77.96 366.69L77.96 380.19 M81.15 384.29L82.60 384.29 M81.02 385.34L82.60 385.34 M80.74 386.57L82.60 386.57 M80.15 385.34L81.02 385.34 M80.15 386.57L80.74 386.57 M80.15 385.34L80.15 386.57 M79.75 384.29L81.15 384.29 M79.75 385.95L80.15 385.95 M79.75 384.29L79.75 385.95 M79.05 387.29L82.60 387.29 M78.51 385.12L79.75 385.12 M78.51 387.29L79.05 387.29 M78.51 385.12L78.51 387.29 M80.58 388.18L82.60 388.18 M81.33 389.45L82.60 389.45 M80.18 388.18L80.58 388.18 M80.18 389.45L81.33 389.45 M80.18 388.18L80.18 389.45 M80.23 390.66L82.60 390.66 M79.78 388.82L80.18 388.82 M79.78 390.66L80.23 390.66 M79.78 388.82L79.78 390.66 M77.20 386.21L78.51 386.21 M77.20 389.74L79.78 389.74 M77.20 386.21L77.20 389.74 M74.90 373.44L77.96 373.44 M74.90 387.97L77.20 387.97 M74.90 373.44L74.90 387.97 M72.40 349.96L76.00 349.96 M72.40 380.71L74.90 380.71 M72.40 349.96L72.40 380.71 M68.60 319.95L73.00 319.95 M68.60 365.34L72.40 365.34 M68.60 319.95L68.60 365.34 M63.50 236.57L70.00 236.57 M63.50 342.65L68.60 342.65 M63.50 236.57L63.50 342.65" stroke="#555" stroke-width="0.45" fill="none"/>
</svg></body></html>
